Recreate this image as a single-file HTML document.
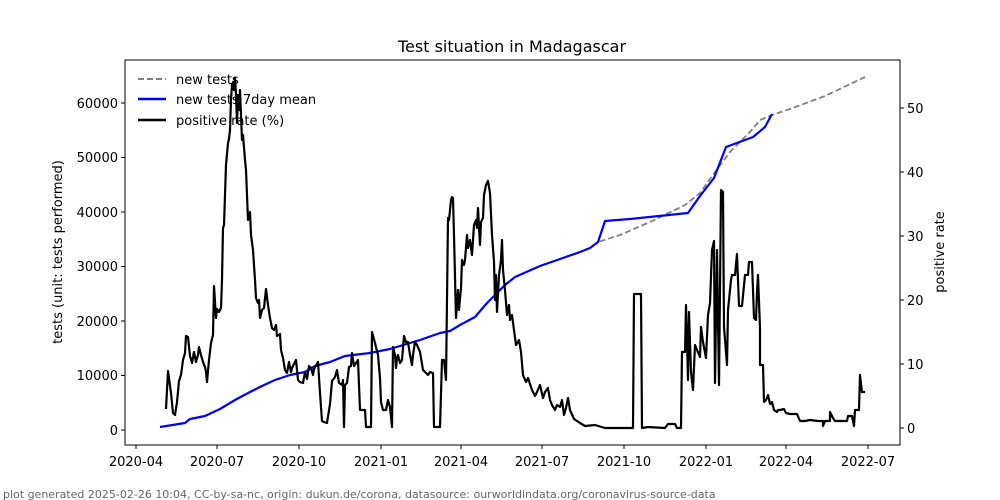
<!DOCTYPE html>
<html><head><meta charset="utf-8"><style>body{margin:0;background:#fff}svg{display:block}text{font-family:"DejaVu Sans","Liberation Sans",sans-serif}</style></head><body>
<svg width="1000" height="500" viewBox="0 0 1000 500" xmlns="http://www.w3.org/2000/svg">
<rect width="1000" height="500" fill="#fff"/>
<text x="512" y="52" font-size="16" text-anchor="middle">Test situation in Madagascar</text>
<g fill="none" stroke-linejoin="round">
<polyline stroke="#808080" stroke-width="1.8" stroke-dasharray="6,3" points="160,427 185,423 190,419 205,416 220,409 235,400 250,392 262,386 275,380 290,375 305,372 315,366 330,362 345,356 370,353 390,349 420,340 440,333 450,331 460,325 475,317 487,303 495,295 505,285 515,277 540,266 560,259 580,252 590,248 598,242 620,235 650,222 685,205 700,193 715,172 730,152 750,132 760,120 775,114 790,109 825,96 865,77"/>
<polyline stroke="#0000ff" stroke-width="2.2" points="160,427 185,423 190,419 205,416 220,409 235,400 250,392 262,386 275,380 290,375 305,372 315,366 330,362 345,356 370,353 390,349 420,340 440,333 450,331 460,325 475,317 487,303 495,295 505,285 515,277 540,266 560,259 580,252 590,248 598,242 600,236 605,221 630,219 688,213 700,196 714,178 726,147 753,137 765,127 772,114"/>
<polyline stroke="#000" stroke-width="2.2" points="166,409 168,371 171,393 173,413 175,415 177,402 179,381 181,375 183,360 185,353 186,336 188,337 190,356 192,363 194,352 196,362 198,355 199,347 201,355 203,362 205,367 206,372 207,382 209,360 211,343 213,335 214,286 216,318 217,309 219,312 221,308 222,280 223,228 224,225 226,165 228,143 229,139 230,130 231,100 232,85 233,82 234,90 235,78 236,95 237,123 238,95 239,110 240,90 242,140 243,135 245,160 246,170 248,220 250,212 251,235 253,250 255,280 256,298 258,303 259,300 260,318 262,310 264,308 266,289 268,305 270,318 272,328 274,330 276,325 277,336 280,334 281,350 283,358 285,370 287,373 289,362 291,372 292,368 294,364 296,360 298,380 300,382 303,383 305,372 307,379 309,366 311,368 313,375 314,369 318,362 320,393 322,421 324,422 327,423 330,404 332,381 335,377 337,370 339,383 342,385 343,380 344,427 345,385 347,383 349,367 351,366 352,353 354,366 356,363 358,360 360,410 362,410 365,410 366,427 369,427 371,427 372,332 375,343 378,355 380,378 381,402 383,410 386,410 388,400 390,407 392,427 393,347 395,355 396,368 397,358 398,355 400,363 402,360 404,336 406,342 408,342 410,355 412,365 413,355 415,342 417,345 420,352 423,370 425,372 428,375 430,372 433,373 434,427 440,427 442,360 444,360 446,380 447,300 448,218 449,220 451,200 452,197 453,198 454,235 456,318 458,290 459,310 461,288 462,260 464,265 465,260 467,235 468,248 470,240 472,255 474,225 476,220 477,228 478,208 480,245 481,222 483,218 484,195 486,185 488,181 490,193 492,235 494,262 495,300 496,275 497,312 499,275 501,260 502,240 503,270 505,290 507,315 509,305 510,320 512,315 514,330 516,345 519,340 521,352 523,375 526,382 528,378 532,390 535,396 537,392 540,385 543,398 545,392 548,388 550,400 552,405 555,410 557,405 560,407 562,400 564,415 566,408 568,398 570,410 574,419 580,423 585,426 595,425 605,428 633,428 634,294 641,294 642,428 648,427 665,428 668,424 675,424 677,428 681,428 682,352 685,352 686,305 688,380 689,312 691,372 693,390 695,345 697,350 700,357 701,327 703,342 706,358 708,315 710,303 712,250 714,241 715,383 717,250 719,385 720,290 721,190 723,192 724,327 727,365 728,310 731,280 732,275 735,275 737,254 739,306 742,306 745,275 748,275 749,262 752,262 754,318 756,320 757,293 758,275 760,328 760,365 763,365 764,402 766,400 768,395 770,404 772,402 774,410 777,412 778,410 780,410 784,409 786,413 790,414 797,414 800,421 805,421 810,420 818,421 823,421 823,426 825,421 830,421 830,412 833,418 835,421 847,421 848,416 852,416 854,426 855,410 859,410 860,375 862,392 865,392"/>
</g>
<rect x="125" y="60" width="775" height="385" fill="none" stroke="#000" stroke-width="1"/>
<g stroke="#000" stroke-width="1">
<line x1="121" y1="430" x2="125" y2="430"/><line x1="121" y1="375.5" x2="125" y2="375.5"/><line x1="121" y1="321" x2="125" y2="321"/><line x1="121" y1="266.5" x2="125" y2="266.5"/><line x1="121" y1="212" x2="125" y2="212"/><line x1="121" y1="157.5" x2="125" y2="157.5"/><line x1="121" y1="103" x2="125" y2="103"/>
<line x1="900" y1="428" x2="904" y2="428"/><line x1="900" y1="364" x2="904" y2="364"/><line x1="900" y1="300" x2="904" y2="300"/><line x1="900" y1="236" x2="904" y2="236"/><line x1="900" y1="172" x2="904" y2="172"/><line x1="900" y1="108" x2="904" y2="108"/>
<line x1="136" y1="445" x2="136" y2="449"/><line x1="217" y1="445" x2="217" y2="449"/><line x1="299" y1="445" x2="299" y2="449"/><line x1="381" y1="445" x2="381" y2="449"/><line x1="461" y1="445" x2="461" y2="449"/><line x1="542" y1="445" x2="542" y2="449"/><line x1="624" y1="445" x2="624" y2="449"/><line x1="706" y1="445" x2="706" y2="449"/><line x1="786" y1="445" x2="786" y2="449"/><line x1="868" y1="445" x2="868" y2="449"/>
</g>
<g font-size="13" text-anchor="end">
<text x="118" y="435">0</text><text x="118" y="380">10000</text><text x="118" y="326">20000</text><text x="118" y="271">30000</text><text x="118" y="217">40000</text><text x="118" y="162">50000</text><text x="118" y="108">60000</text>
</g>
<g font-size="13">
<text x="907" y="433">0</text><text x="907" y="369">10</text><text x="907" y="305">20</text><text x="907" y="241">30</text><text x="907" y="177">40</text><text x="907" y="113">50</text>
</g>
<g font-size="13" text-anchor="middle">
<text x="136" y="466">2020-04</text><text x="217" y="466">2020-07</text><text x="299" y="466">2020-10</text><text x="381" y="466">2021-01</text><text x="461" y="466">2021-04</text><text x="542" y="466">2021-07</text><text x="624" y="466">2021-10</text><text x="706" y="466">2022-01</text><text x="786" y="466">2022-04</text><text x="868" y="466">2022-07</text>
</g>
<text transform="translate(62,252) rotate(-90)" font-size="13" text-anchor="middle">tests (unit: tests performed)</text>
<text transform="translate(944,252) rotate(-90)" font-size="13" text-anchor="middle">positive rate</text>
<g stroke-width="2">
<line x1="138" y1="79" x2="166" y2="79" stroke="#808080" stroke-dasharray="6,3"/>
<line x1="138" y1="99" x2="166" y2="99" stroke="#0000ff" stroke-width="2.4"/>
<line x1="138" y1="120" x2="166" y2="120" stroke="#000" stroke-width="2.4"/>
</g>
<g font-size="13"><text x="176" y="84">new tests</text><text x="176" y="104">new tests 7day mean</text><text x="176" y="125">positive rate (%)</text></g>
<text x="3" y="498" font-size="11" fill="#666">plot generated 2025-02-26 10:04, CC-by-sa-nc, origin: dukun.de/corona, datasource: ourworldindata.org/coronavirus-source-data</text>
</svg>
</body></html>
